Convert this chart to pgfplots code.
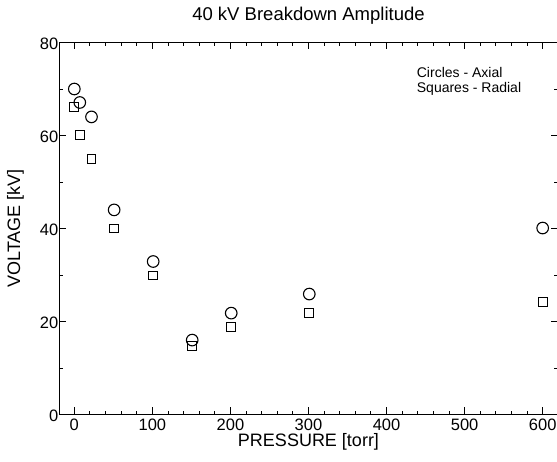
\documentclass[border=0pt]{standalone}
\usepackage{pgfplots}
\pgfplotsset{compat=1.18}
\usepackage{fontspec}
\setmainfont{Liberation Sans}
\begin{document}
\begin{tikzpicture}
\begin{axis}[
  scale only axis,
  width=498pt, height=372pt,
  xmin=-19, xmax=619, ymin=0, ymax=80,
  xtick={0,100,...,600}, ytick={0,20,...,80},
  minor x tick num=4, minor y tick num=1,
  tick align=inside,
  major tick length=7pt, minor tick length=3.5pt,
  tick style={black, line width=0.9pt},
  axis line style={line width=1.1pt},
  /pgf/number format/assume math mode=true,
  tick label style={font=\fontsize{16.5}{18}\selectfont},
  xticklabel style={anchor=center, yshift=-10pt},
  yticklabel style={anchor=east, inner sep=1pt, xshift=0pt, yshift=-1pt},
  xlabel={PRESSURE [torr]},
  ylabel={VOLTAGE [kV]},
  xlabel style={font=\fontsize{18}{20}\selectfont, at={(axis description cs:0.5,-0.0745)}, anchor=center},
  ylabel style={font=\fontsize{18}{20}\selectfont, at={(axis description cs:-0.0884,0.5)}, anchor=center},
  title={40 kV Breakdown Amplitude},
  title style={font=\fontsize{18.5}{20}\selectfont, at={(axis description cs:0.5,1.0551)}, anchor=center},
  clip=false,
]
\addplot[only marks, mark=o, mark size=5.8pt, line width=1.1pt] coordinates {
(0,70.0) (7,67.1) (22,64.0) (51,44.0) (101,32.9) (151,16.0) (201,21.8) (301,25.9) (600,40.1)};
\addplot[only marks, mark=square, mark size=4.4pt, line width=1.1pt] coordinates {
(0,66.2) (7,60.1) (22,54.9) (51,40.0) (101,29.9) (151,14.8) (201,18.8) (301,21.9) (600,24.2)};
\node[anchor=north west, align=left, inner sep=0pt, font=\fontsize{14}{15}\selectfont] at (axis cs:438.6,74.7) {Circles - Axial\\Squares - Radial};
\coordinate (bl) at (rel axis cs:0,0);
\coordinate (tr) at (rel axis cs:1,1);
\end{axis}
\pgfresetboundingbox
\path ([xshift=-59.5pt,yshift=-47.5pt]bl) rectangle ([xshift=-0.5pt,yshift=42.5pt]tr);
\end{tikzpicture}
\end{document}
